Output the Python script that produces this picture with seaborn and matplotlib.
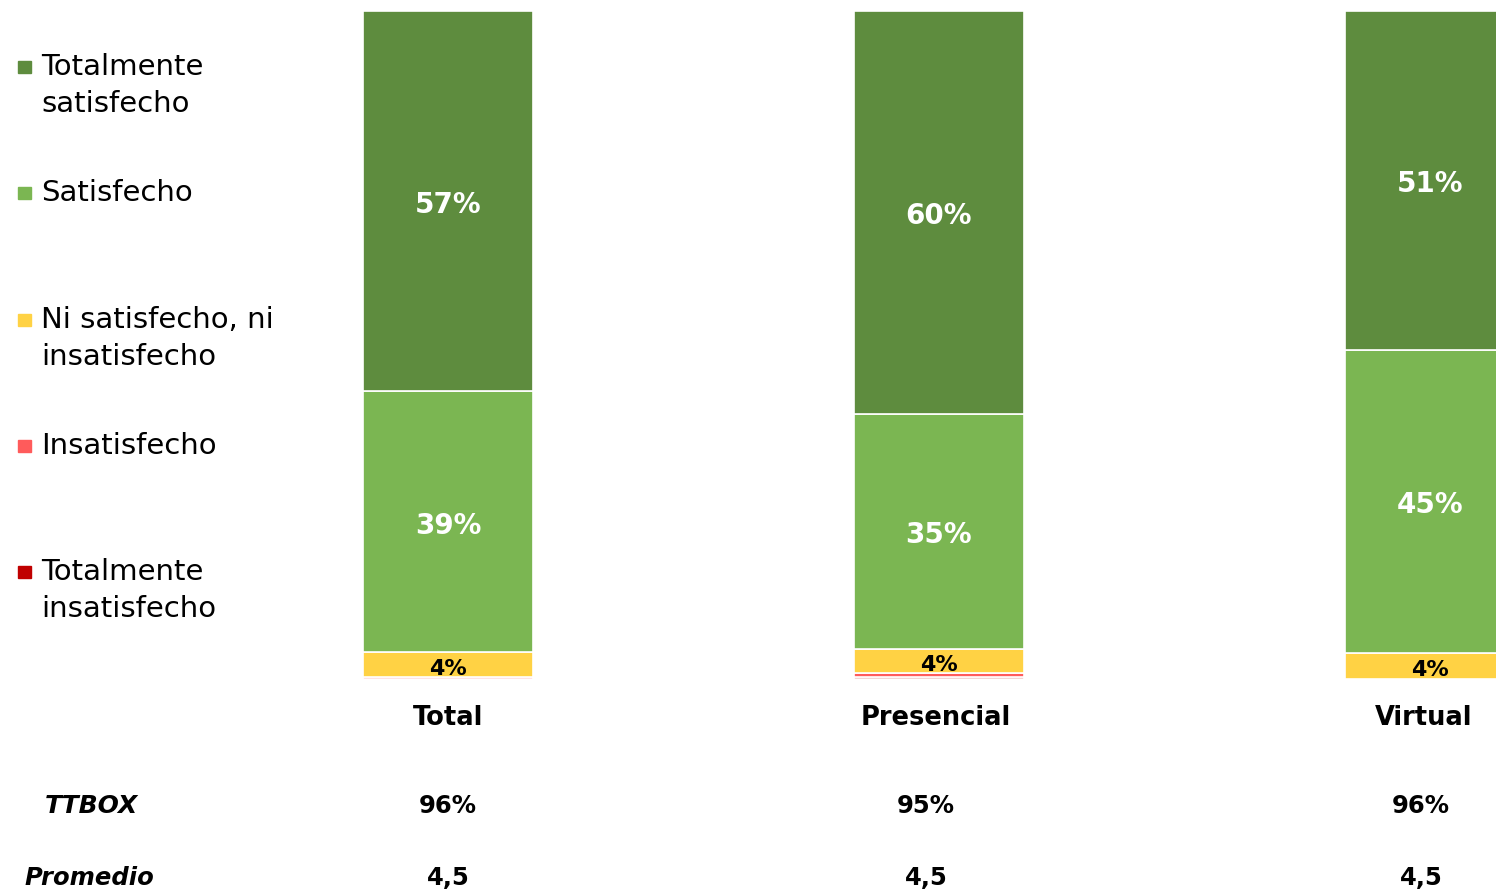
import matplotlib

matplotlib.use('Agg')
import matplotlib.pyplot as plt
import matplotlib.transforms as mtransforms
from matplotlib.patches import Rectangle
import numpy as np
import seaborn as sns

categories = ['Total', 'Presencial', 'Virtual']
segment_names = ['Totalmente\ninsatisfecho', 'Insatisfecho', 'Ni satisfecho, ni\ninsatisfecho',
                 'Satisfecho', 'Totalmente\nsatisfecho']
tot_insatisfecho = [0.0, 0.3, 0.0]
insatisfecho = [0.3, 0.6, 0.0]
ni_ni = [3.7, 3.6, 3.9]
satisfecho = [39.1, 35.2, 45.4]
tot_satisfecho = [56.9, 60.3, 50.7]
ttbox = ['96%', '95%', '96%']
promedio = ['4,5', '4,5', '4,5']

colors = ['#C00000', '#FF5B5B', '#FFD244', '#7BB652', '#5E8C3E']
label_colors = [None, None, 'black', 'white', 'white']
label_sizes = [None, None, 16, 20, 20]

sns.set_style('white')
plt.rcParams['font.family'] = ['DejaVu Sans']
plt.rcParams['text.color'] = 'black'

W, H = 1496, 894
fig = plt.figure(figsize=(W / 100, H / 100), dpi=100)
ax = fig.add_axes([0, (H - 679) / H, 1, 668 / H])

series = [tot_insatisfecho, insatisfecho, ni_ni, satisfecho, tot_satisfecho]
bottom = np.zeros(len(categories))
for vals, col, lc, ls in zip(series, colors, label_colors, label_sizes):
    vals = np.array(vals)
    sns.barplot(x=categories, y=vals, bottom=bottom, color=col, saturation=1,
                width=0.346, edgecolor='white', linewidth=1.2, errorbar=None, ax=ax)
    if lc is not None:
        for i, v in enumerate(vals):
            if v >= 3:
                ax.text(i, bottom[i] + v / 2 - 0.6, f'{v:.0f}%', ha='center', va='center',
                        color=lc, fontsize=ls, fontweight='bold')
    bottom = bottom + vals

ax.set_xlim(-448 / 491, (W - 448) / 491)
ax.set_ylim(0, 100)
ax.axis('off')

# texts below bars (summary rows sit slightly left of the bar centres)
summary_shift = [0.0, -0.026, -0.018]
trans = mtransforms.blended_transform_factory(ax.transData, fig.transFigure)
for i, cat in enumerate(categories):
    ax.text(i - 0.006 * i, 1 - 718 / H, cat, transform=trans, ha='center', va='center',
            fontsize=18.5, fontweight='bold')
    ax.text(i + summary_shift[i], 1 - 806 / H, ttbox[i], transform=trans, ha='center',
            va='center', fontsize=17.5, fontweight='bold')
    ax.text(i + summary_shift[i], 1 - 878 / H, promedio[i], transform=trans, ha='center',
            va='center', fontsize=17.5, fontweight='bold')
fig.text(45 / W, 1 - 806 / H, 'TTBOX', ha='left', va='center', fontsize=18,
         fontweight='bold', fontstyle='italic')
fig.text(24 / W, 1 - 878 / H, 'Promedio', ha='left', va='center', fontsize=17.5,
         fontweight='bold', fontstyle='italic')

# legend, top entry first; baseline of first line of each entry
line_gap = 37
for k, (name, col) in enumerate(zip(segment_names[::-1], colors[::-1])):
    base = 75 + 126.3 * k
    n_lines = name.count('\n') + 1
    fig.add_artist(Rectangle((18 / W, 1 - (base - 2) / H), 13 / W, 12 / H,
                             color=col, transform=fig.transFigure))
    fig.text(41 / W, 1 - (base + line_gap * (n_lines - 1)) / H, name, ha='left',
             va='baseline', fontsize=21, linespacing=1.4)

fig.savefig('out.png', dpi=100)
